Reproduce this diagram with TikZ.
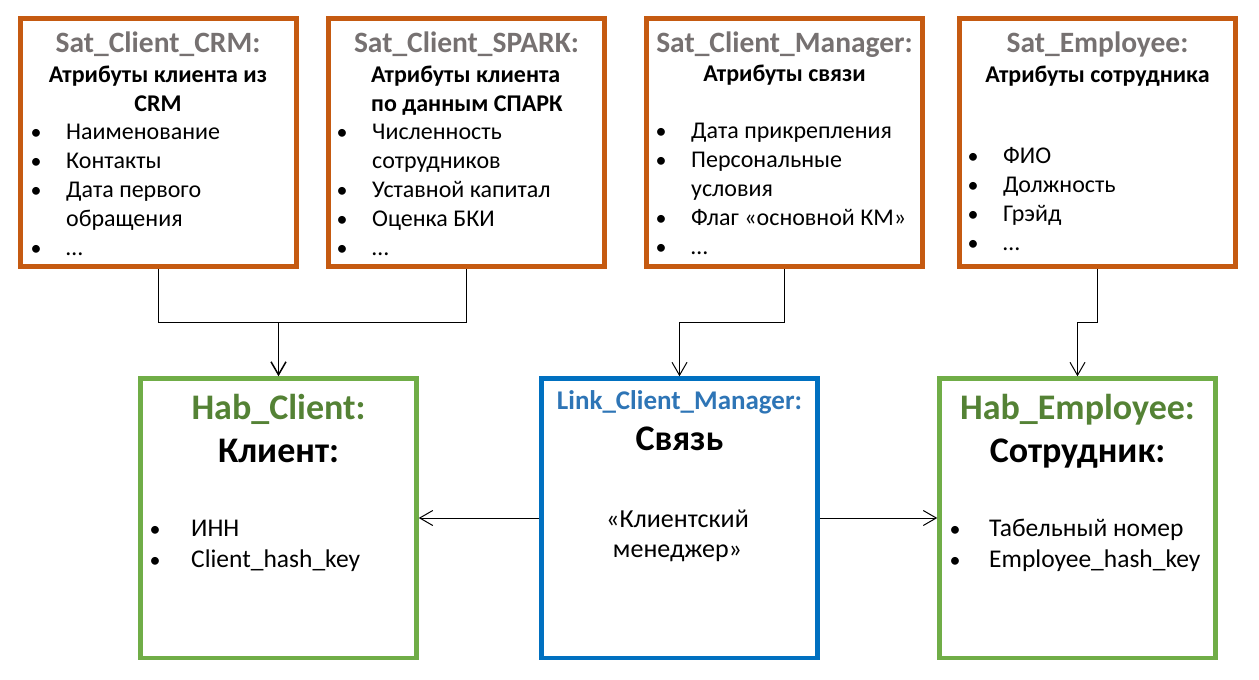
\documentclass[tikz,border=0pt]{standalone}
\usepackage{fontspec}
\setmainfont{Carlito}
\usetikzlibrary{arrows.meta}
\definecolor{satc}{RGB}{197,90,17}
\definecolor{hubc}{RGB}{112,173,71}
\definecolor{hubt}{RGB}{84,130,53}
\definecolor{linkc}{RGB}{0,112,192}
\definecolor{linkt}{RGB}{46,117,182}
\definecolor{satt}{RGB}{118,113,113}
\begin{document}
\begin{tikzpicture}[x=1pt,y=-1pt,
  satbox/.style={draw=satc, line width=5pt, minimum width=276pt, minimum height=248pt, inner sep=0pt},
  hubbox/.style={draw=hubc, line width=4.5pt, minimum width=276pt, minimum height=279.5pt, inner sep=0pt},
  linkbox/.style={draw=linkc, line width=4.5pt, minimum width=276pt, minimum height=279.5pt, inner sep=0pt},
  sattitle/.style={inner sep=0pt, anchor=base, text=satt, font=\fontsize{29.5}{35}\selectfont\bfseries},
  sub/.style={inner sep=0pt, font=\fontsize{24}{29}\selectfont\bfseries},
  txt/.style={inner sep=0pt, anchor=base west, font=\fontsize{24}{29}\selectfont},
  bul/.style={inner sep=0pt, anchor=base, font=\fontsize{22}{29}\selectfont},
  btxt/.style={inner sep=0pt, anchor=base west, font=\fontsize{25.5}{31}\selectfont},
  hubtitle/.style={inner sep=0pt, anchor=base, text=hubt, font=\fontsize{36}{43}\selectfont\bfseries},
  bigtitle/.style={inner sep=0pt, anchor=base, font=\fontsize{36}{43}\selectfont\bfseries},
  conn/.style={line width=1pt},
  arr/.style={line width=1pt, -{Straight Barb[length=13pt,width=15pt]}}
]
\useasboundingbox (0,0) rectangle (1259,680);
% satellite boxes
\node[satbox] (crm) at (158,142) {};
\node[satbox] (spark) at (466.5,142) {};
\node[satbox] (mgr) at (784.5,142) {};
\node[satbox] (emp) at (1097.5,142) {};
% hub/link boxes
\node[hubbox] (hc) at (278.5,518.25) {};
\node[linkbox] (lk) at (679.5,518.25) {};
\node[hubbox] (he) at (1077.5,518.25) {};

% Sat_Client_CRM
\node[sattitle] (crmT) at (158,52) {Sat\_Client\_CRM:};
\node[sub, anchor=base] (crmS1) at (158,82) {Атрибуты клиента из};
\node[sub, anchor=base] (crmS2) at (158,111) {CRM};
\node[bul] (crmB1) at (36,139) {•}; \node[txt] (crm1) at (66,139) {Наименование};
\node[bul] (crmB2) at (36,168) {•}; \node[txt] (crm2) at (66,168) {Контакты};
\node[bul] (crmB3) at (36,197) {•}; \node[txt] (crm3) at (66,197) {Дата первого};
\node[txt] (crm4) at (66,226) {обращения};
\node[bul] (crmB5) at (36,255) {•}; \node[txt] (crm5) at (66,255) {…};

% Sat_Client_SPARK
\node[sattitle] (spT) at (466.5,52) {Sat\_Client\_SPARK:};
\node[sub, anchor=base west] (spS1) at (371,82) {Атрибуты клиента};
\node[sub, anchor=base west] (spS2) at (371,111) {по данным СПАРК};
\node[bul] (spB1) at (342,139) {•}; \node[txt] (sp1) at (372,139) {Численность};
\node[txt] (sp2) at (372,168) {сотрудников};
\node[bul] (spB3) at (342,197) {•}; \node[txt] (sp3) at (372,197) {Уставной капитал};
\node[bul] (spB4) at (342,226) {•}; \node[txt] (sp4) at (372,226) {Оценка БКИ};
\node[bul] (spB5) at (342,255) {•}; \node[txt] (sp5) at (372,255) {…};

% Sat_Client_Manager
\node[sattitle] (mgT) at (784.5,52) {Sat\_Client\_Manager:};
\node[sub, anchor=base] (mgS1) at (784.5,81) {Атрибуты связи};
\node[bul] (mgB1) at (661,138) {•}; \node[txt] (mg1) at (691,138) {Дата прикрепления};
\node[bul] (mgB2) at (661,167) {•}; \node[txt] (mg2) at (691,167) {Персональные};
\node[txt] (mg3) at (691,196) {условия};
\node[bul] (mgB4) at (661,225) {•}; \node[txt] (mg4) at (691,225) {Флаг «основной КМ»};
\node[bul] (mgB5) at (661,254) {•}; \node[txt] (mg5) at (691,254) {…};

% Sat_Employee
\node[sattitle] (emT) at (1097.5,52) {Sat\_Employee:};
\node[sub, anchor=base] (emS1) at (1097.5,82) {Атрибуты сотрудника};
\node[bul] (emB1) at (973,163) {•}; \node[txt] (em1) at (1003,163) {ФИО};
\node[bul] (emB2) at (973,192) {•}; \node[txt] (em2) at (1003,192) {Должность};
\node[bul] (emB3) at (973,221) {•}; \node[txt] (em3) at (1003,221) {Грэйд};
\node[bul] (emB4) at (973,250) {•}; \node[txt] (em4) at (1003,250) {…};

% Hab_Client
\node[hubtitle] (hcT) at (278.5,419) {Hab\_Client:};
\node[bigtitle] (hcS) at (278.5,462) {Клиент:};
\node[bul] (hcB1) at (155,536) {•}; \node[btxt] (hc1) at (191,536) {ИНН};
\node[bul] (hcB2) at (155,567) {•}; \node[btxt] (hc2) at (191,567) {Client\_hash\_key};

% Link_Client_Manager
\node[inner sep=0pt, anchor=base, text=linkt, font=\fontsize{27}{32}\selectfont\bfseries] (lkT) at (679.5,409) {Link\_Client\_Manager:};
\node[bigtitle] (lkS) at (679.5,450) {Связь};
\node[inner sep=0pt, anchor=base, font=\fontsize{26}{31}\selectfont] (lk1) at (677.5,527) {«Клиентский};
\node[inner sep=0pt, anchor=base, font=\fontsize{26}{31}\selectfont] (lk2) at (677.5,557) {менеджер»};

% Hab_Employee
\node[hubtitle] (heT) at (1077.5,419) {Hab\_Employee:};
\node[bigtitle] (heS) at (1077.5,462) {Сотрудник:};
\node[bul] (heB1) at (955,536) {•}; \node[btxt] (he1) at (989,536) {Табельный номер};
\node[bul] (heB2) at (955,567) {•}; \node[btxt] (he2) at (989,567) {Employee\_hash\_key};

% connectors
\coordinate (j1) at (278.5,322);
\coordinate (j2) at (679.5,322);
\coordinate (j3) at (1077.5,322);
\coordinate (mid) at (0,518);
\draw[conn] (crm.south) |- (spark.south |- j1) -- (spark.south);
\draw[arr, line width=1.5pt] (j1) -- (hc.north);
\draw[conn] (mgr.south) |- (j2);
\draw[arr] (j2) -- (lk.north);
\draw[conn] (emp.south) |- (j3);
\draw[arr] (j3) -- (he.north);
\draw[arr] (lk.west |- mid) -- (hc.east |- mid);
\draw[arr] (lk.east |- mid) -- (he.west |- mid);
\end{tikzpicture}
\end{document}
